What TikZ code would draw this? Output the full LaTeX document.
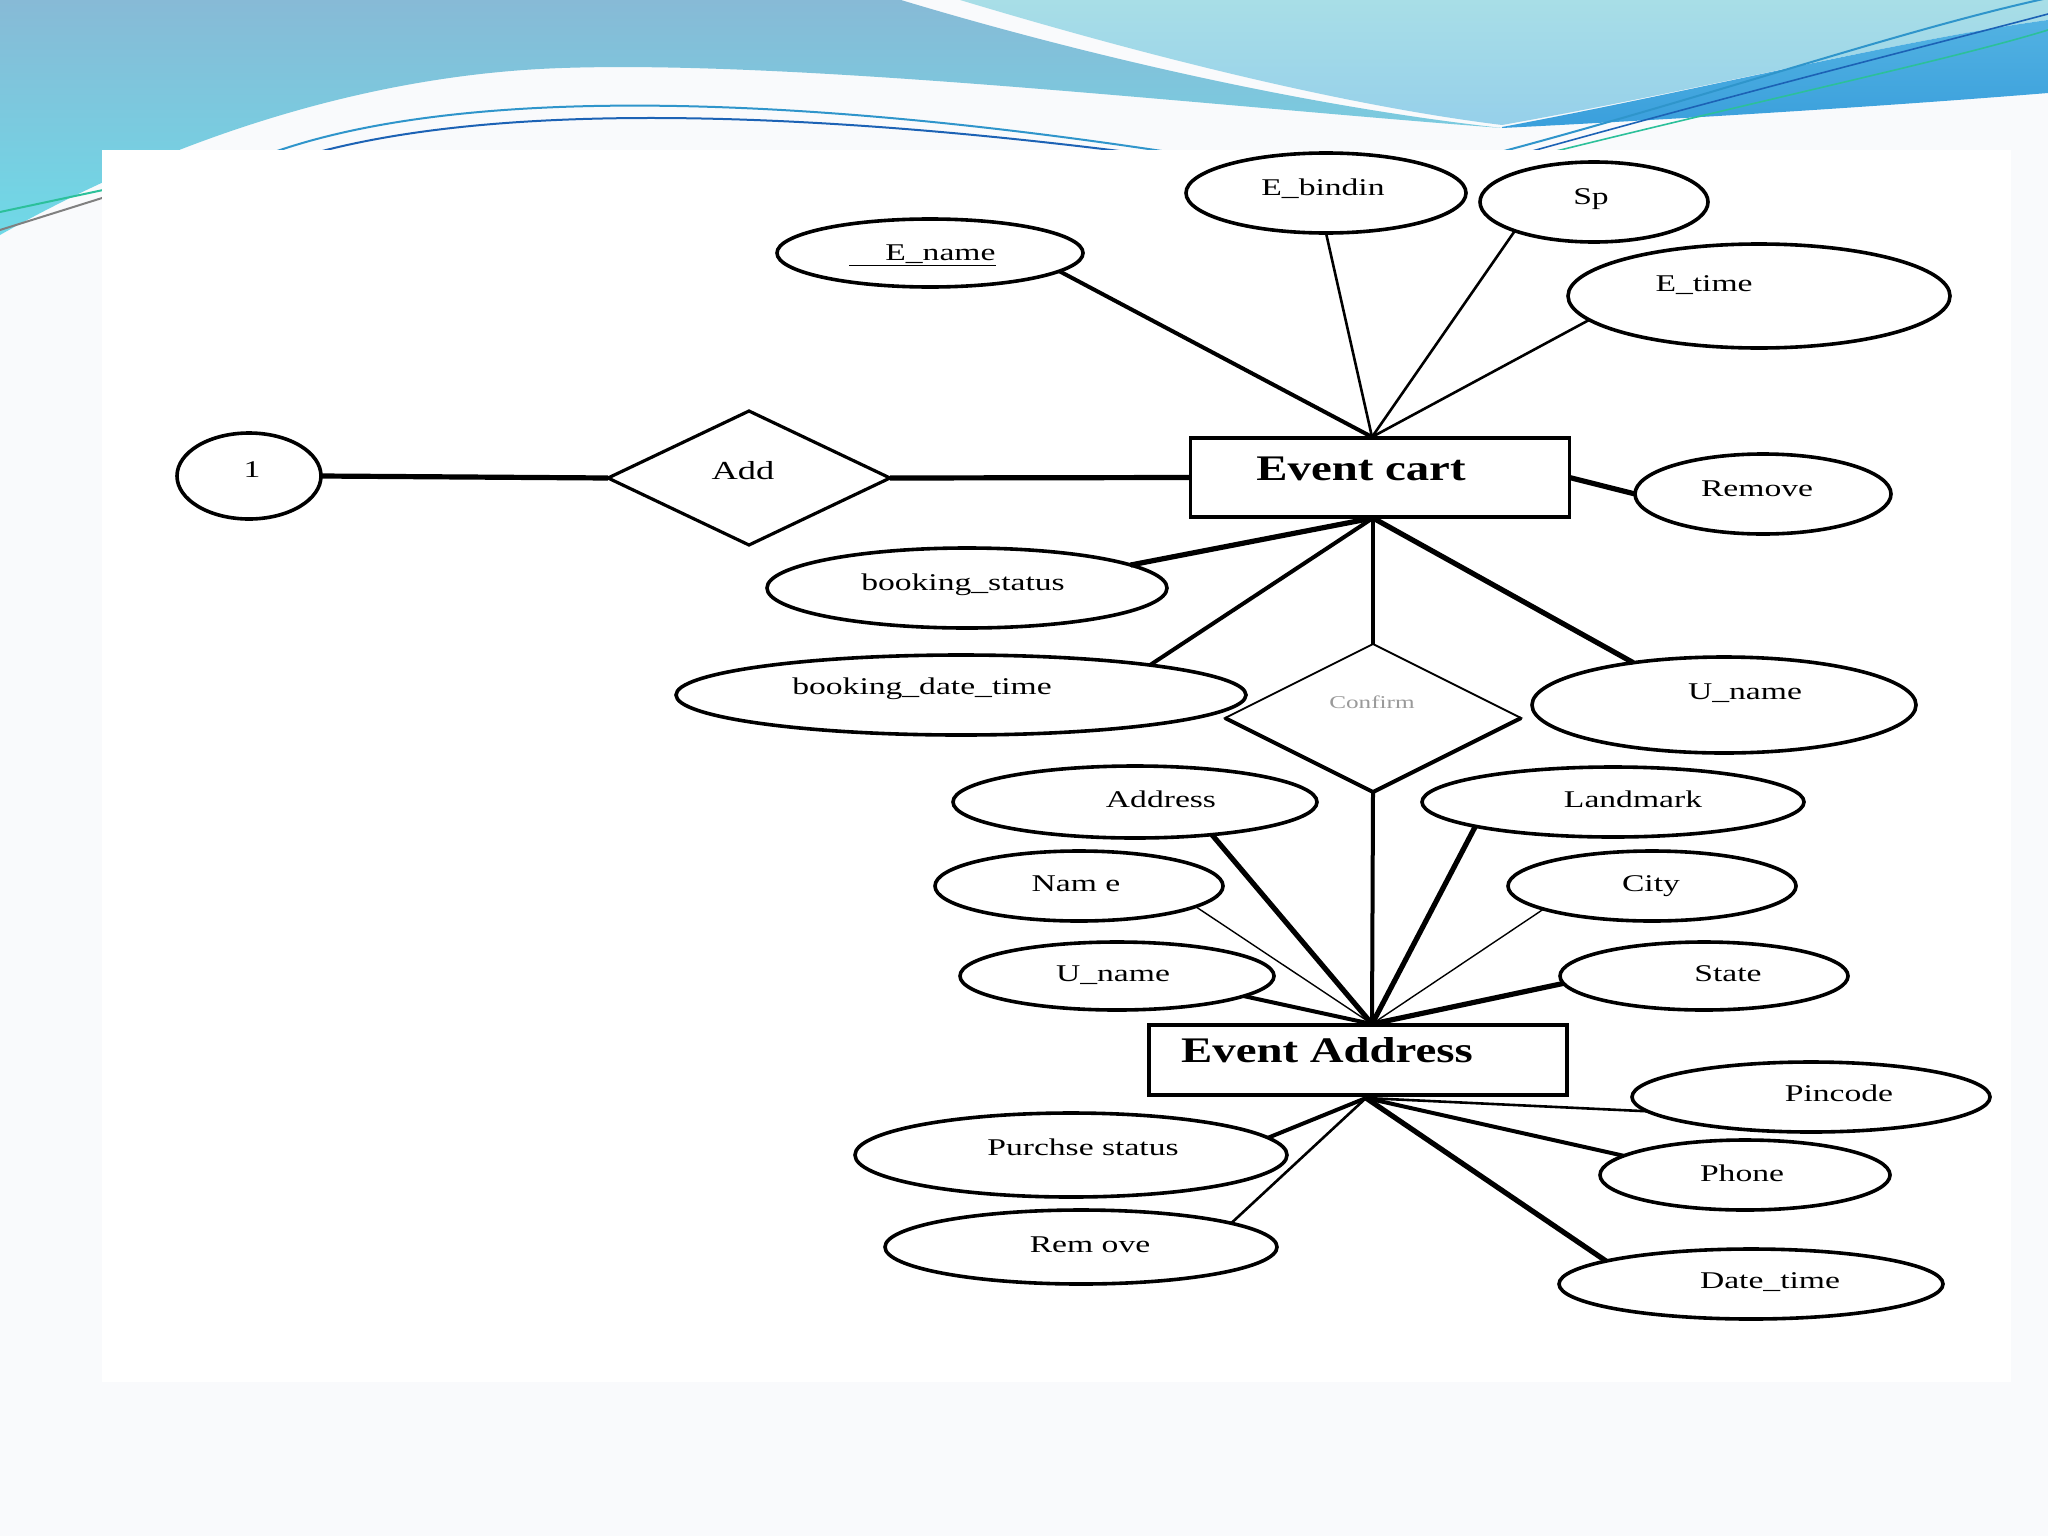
\documentclass[tikz,border=0pt]{standalone}
\usepackage{fontspec}
\setmainfont{Liberation Serif}
\newfontfamily\erfont[FakeStretch=1.4]{Liberation Serif}
\newfontfamily\erbfont[FakeStretch=1.3]{Liberation Serif}
\usetikzlibrary{shapes.geometric}
\definecolor{slidebg}{HTML}{F9FAFC}
\definecolor{waveA}{HTML}{87BAD6}
\definecolor{waveB}{HTML}{6FD9E7}
\definecolor{lightA}{HTML}{A8DEE7}
\definecolor{lightB}{HTML}{96D0EA}
\definecolor{bandA}{HTML}{52B2E2}
\definecolor{bandB}{HTML}{3A9FDC}
\definecolor{lineTeal}{HTML}{2F95CB}
\definecolor{lineBlue}{HTML}{1C62B5}
\definecolor{lineGreen}{HTML}{2CC09A}
\definecolor{confirmgray}{HTML}{9A9A9A}
\begin{document}
\begin{tikzpicture}[x=0.5pt,y=-0.5pt,
  attr/.style 2 args={draw, ellipse, line width=1.8pt, inner sep=0pt, outer sep=0pt, minimum width=#1pt, minimum height=#2pt},
  ent/.style 2 args={draw, rectangle, line width=1.8pt, inner sep=0pt, outer sep=0pt, minimum width=#1pt, minimum height=#2pt},
  rel/.style 2 args={draw, diamond, line width=1.6pt, inner sep=0pt, outer sep=0pt, minimum width=#1pt, minimum height=#2pt},
  lbl/.style={font=\erfont\fontsize{12}{14}\selectfont, anchor=base, inner sep=0pt},
  blbl/.style={font=\erbfont\bfseries\fontsize{18}{20}\selectfont, anchor=base, inner sep=0pt},
  lA/.style={line width=2.6pt},
  lB/.style={line width=2pt},
  lC/.style={line width=1.3pt},
  lD/.style={line width=0.7pt}]
\useasboundingbox (0,0) rectangle (2048,1536);
% ---------- slide background ----------
\fill[slidebg] (0,0) rectangle (2048,1536);
\shade[top color=waveA, bottom color=waveB]
  (0,0) -- (901,0) .. controls (1000,30) and (1250,100) .. (1502,128)
  .. controls (1200,105) and (800,60) .. (562,68)
  .. controls (350,75) and (150,150) .. (0,235) -- cycle;
\shade[top color=lightA, bottom color=lightB]
  (960,0) .. controls (1060,30) and (1300,100) .. (1502,125)
  .. controls (1700,90) and (1900,40) .. (2048,20) -- (2048,0) -- cycle;
\shade[top color=bandA, bottom color=bandB]
  (1502,127) .. controls (1700,90) and (1900,40) .. (2048,20) -- (2048,93)
  .. controls (1900,105) and (1700,118) .. (1502,128) -- cycle;
\draw[lineTeal, line width=1pt] (230,170) .. controls (420,80) and (800,90) .. (1250,165);
\draw[lineBlue, line width=1pt] (262,170) .. controls (450,98) and (800,105) .. (1225,165);
\draw[lineGreen, line width=1pt] (0,212) -- (150,180);
\draw[gray, line width=1pt] (0,230) -- (150,183);
\draw[lineTeal, line width=1pt] (1470,160) .. controls (1700,100) and (1900,30) .. (2048,-2);
\draw[lineBlue, line width=0.8pt] (1500,160) .. controls (1750,90) and (1950,40) .. (2048,14);
\draw[lineGreen, line width=0.8pt] (1520,160) .. controls (1760,100) and (1950,60) .. (2048,30);
% ---------- white diagram area ----------
\fill[white] (102,150) rectangle (2011,1382);
% ---------- entities and relationships ----------
\node[ent={189.5}{39.5}] (cart) at (1380,477.5) {};
\node[blbl] (t-cart) at (1361,480) {Event cart};
\node[ent={209}{35}] (ea) at (1358,1060) {};
\node[blbl] (t-ea) at (1327,1062) {Event Address};
\node[rel={141}{67}] (add) at (749,478) {};
\node[lbl, font=\erfont\fontsize{13}{15}\selectfont] (t-add) at (743,479) {Add};
\node[rel={148}{74}, line width=0.9pt] (confirm) at (1373,718) {};
\draw[lB, line join=round] (confirm.west) -- (confirm.south) -- (confirm.east);
\node[lbl, font=\erfont\fontsize{9}{11}\selectfont, text=confirmgray] (t-confirm) at (1372,708) {Confirm};
% ---------- attributes ----------
\node[attr={153}{34}] (ename) at (930,253) {};
\node[lbl, anchor=base west] (t-ename) at (849,260) {\underline{\hspace*{18pt}E\_name}};
\node[attr={140}{40}] (ebind) at (1326,193) {};
\node[lbl] (t-ebind) at (1323,195) {E\_bindin};
\node[attr={114}{40}] (sp) at (1594,202) {};
\node[lbl] (t-sp) at (1591,204) {Sp};
\node[attr={191}{52}] (etime) at (1759,296) {};
\node[lbl] (t-etime) at (1704,291) {E\_time};
\node[attr={128}{40}] (remove1) at (1763,494) {};
\node[lbl] (t-remove1) at (1757,496) {Remove};
\node[attr={72}{43}] (one) at (249,476) {};
\node[lbl] (t-one) at (252,477) {1};
\node[attr={200}{40}] (bstat) at (967,588) {};
\node[lbl] (t-bstat) at (963,590) {booking\_status};
\node[attr={285}{40}] (bdt) at (961,695) {};
\node[lbl] (t-bdt) at (922,694) {booking\_date\_time};
\node[attr={192}{48}] (uname1) at (1724,705) {};
\node[lbl] (t-uname1) at (1745,699) {U\_name};
\node[attr={182}{36}] (addr) at (1135,802) {};
\node[lbl] (t-addr) at (1161,807) {Address};
\node[attr={191}{35}] (land) at (1613,802) {};
\node[lbl] (t-land) at (1633,807) {Landmark};
\node[attr={144}{35}] (name) at (1079,886) {};
\node[lbl] (t-name) at (1076,891) {Nam e};
\node[attr={144}{35}] (city) at (1652,886) {};
\node[lbl] (t-city) at (1651,891) {City};
\node[attr={157}{34}] (uname2) at (1117,976) {};
\node[lbl] (t-uname2) at (1113,981) {U\_name};
\node[attr={144}{34}] (state) at (1704,976) {};
\node[lbl] (t-state) at (1728,981) {State};
\node[attr={179}{35}] (pin) at (1811,1097) {};
\node[lbl] (t-pin) at (1839,1101) {Pincode};
\node[attr={216}{42}] (pur) at (1071,1155) {};
\node[lbl] (t-pur) at (1083,1155) {Purchse status};
\node[attr={145}{35}] (phone) at (1745,1175) {};
\node[lbl] (t-phone) at (1742,1181) {Phone};
\node[attr={196}{37}] (rem2) at (1081,1247) {};
\node[lbl] (t-rem2) at (1090,1252) {Rem ove};
\node[attr={192}{35}] (dt) at (1751,1284) {};
\node[lbl] (t-dt) at (1770,1288) {Date\_time};
% ---------- hubs ----------
\coordinate (hubT) at (1372,437);
\coordinate (hubB) at (1373,518);
\coordinate (hubEt) at (1372,1024);
\coordinate (hubEb) at (1366,1098);
% ---------- connectors ----------
\draw[lB] (ename.-8) -- (hubT);
\draw[lC] (ebind.south) -- (hubT);
\draw[lC] (sp.200) -- (hubT);
\draw[lC] (etime.188) -- (hubT);
\draw[lA] (cart.east) -- (remove1.west);
\draw[lA] (one.east) -- (add.west);
\draw[lA] (add.east) -- (cart.west);
\draw[lA] (bstat.8) -- (hubB);
\draw[lB] (bdt.9) -- (hubB);
\draw[lB] (hubB) -- (confirm.north);
\draw[lA] (uname1.155) -- (hubB);
\draw[lB] (confirm.south) -- (hubEt);
\draw[lA] (addr.-23) -- (hubEt);
\draw[lD] (name.-10) -- (hubEt);
\draw[lB] (uname2.-9) -- (hubEt);
\draw[lA] (land.190) -- (hubEt);
\draw[lD] (city.192) -- (hubEt);
\draw[lA] (state.183) -- (hubEt);
\draw[lB] (pur.5) -- (hubEb);
\draw[lC] (rem2.9) -- (hubEb);
\draw[lC] (pin.185) -- (hubEb);
\draw[lB] (phone.171) -- (hubEb);
\draw[lA] (dt.171) -- (hubEb);
\end{tikzpicture}
\end{document}
